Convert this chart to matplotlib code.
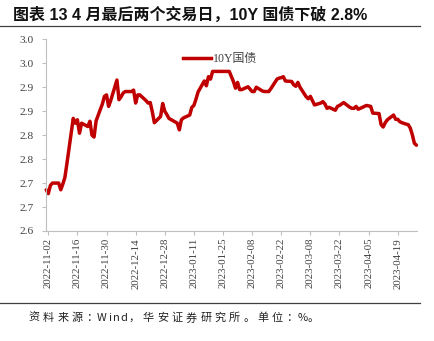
import matplotlib
matplotlib.use("Agg")
import matplotlib.pyplot as plt
from matplotlib.lines import Line2D
import pandas as pd

# 10Y China government bond yield (%), daily close
dates = [
    "2022-11-01", "2022-11-02", "2022-11-03", "2022-11-04", "2022-11-07", "2022-11-08",
    "2022-11-09", "2022-11-10", "2022-11-11", "2022-11-14", "2022-11-15", "2022-11-16",
    "2022-11-17", "2022-11-18", "2022-11-21", "2022-11-22", "2022-11-23", "2022-11-24",
    "2022-11-25", "2022-11-28", "2022-11-29", "2022-11-30",
    "2022-12-01", "2022-12-02", "2022-12-05", "2022-12-06", "2022-12-07", "2022-12-08",
    "2022-12-09", "2022-12-12", "2022-12-13", "2022-12-14", "2022-12-15", "2022-12-16",
    "2022-12-19", "2022-12-20", "2022-12-21", "2022-12-22", "2022-12-23", "2022-12-26",
    "2022-12-27", "2022-12-28", "2022-12-29", "2022-12-30",
    "2023-01-03", "2023-01-04", "2023-01-05", "2023-01-06", "2023-01-09", "2023-01-10",
    "2023-01-11", "2023-01-12", "2023-01-13", "2023-01-16", "2023-01-17", "2023-01-18",
    "2023-01-19", "2023-01-20", "2023-01-28", "2023-01-30", "2023-01-31",
    "2023-02-01", "2023-02-02", "2023-02-03", "2023-02-06", "2023-02-07", "2023-02-08",
    "2023-02-09", "2023-02-10", "2023-02-13", "2023-02-14", "2023-02-15", "2023-02-16",
    "2023-02-17", "2023-02-20", "2023-02-21", "2023-02-22", "2023-02-23", "2023-02-24",
    "2023-02-27", "2023-02-28",
    "2023-03-01", "2023-03-02", "2023-03-03", "2023-03-06", "2023-03-07", "2023-03-08",
    "2023-03-09", "2023-03-10", "2023-03-13", "2023-03-14", "2023-03-15", "2023-03-16",
    "2023-03-17", "2023-03-20", "2023-03-21", "2023-03-22", "2023-03-23", "2023-03-24",
    "2023-03-27", "2023-03-28", "2023-03-29", "2023-03-30", "2023-03-31",
    "2023-04-03", "2023-04-04", "2023-04-06", "2023-04-07", "2023-04-10", "2023-04-11",
    "2023-04-12", "2023-04-13", "2023-04-14", "2023-04-17", "2023-04-18", "2023-04-19",
    "2023-04-20", "2023-04-21", "2023-04-23", "2023-04-24", "2023-04-25", "2023-04-26",
    "2023-04-27", "2023-04-28",
]
yields_10y = [
    2.686, 2.678, 2.695, 2.700, 2.700, 2.686,
    2.698, 2.712, 2.742, 2.835, 2.825, 2.832,
    2.804, 2.825, 2.818, 2.829, 2.800, 2.796,
    2.830, 2.865, 2.881, 2.884,
    2.860, 2.872, 2.915, 2.874, 2.880, 2.888,
    2.891, 2.891, 2.894, 2.867, 2.884, 2.884,
    2.872, 2.867, 2.868, 2.849, 2.826, 2.839,
    2.866, 2.850, 2.843, 2.835,
    2.825, 2.811, 2.832, 2.836, 2.842, 2.858,
    2.862, 2.875, 2.890, 2.913, 2.903, 2.922,
    2.917, 2.933, 2.933, 2.912, 2.898,
    2.910, 2.895, 2.895, 2.901, 2.896, 2.891,
    2.891, 2.900, 2.892, 2.891, 2.891, 2.891,
    2.897, 2.917, 2.919, 2.920, 2.922, 2.913,
    2.912, 2.905,
    2.902, 2.910, 2.900, 2.880, 2.876, 2.881,
    2.872, 2.863, 2.867, 2.870, 2.865, 2.856,
    2.858, 2.852, 2.860, 2.862, 2.865, 2.868,
    2.858, 2.856, 2.856, 2.860, 2.854,
    2.860, 2.862, 2.860, 2.846, 2.845, 2.822,
    2.817, 2.826, 2.832, 2.842, 2.833, 2.833,
    2.828, 2.826, 2.823, 2.822, 2.815, 2.801,
    2.783, 2.779,
]

y_ticks = [2.60, 2.65, 2.70, 2.75, 2.80, 2.85, 2.90, 2.95, 3.00]
y_tick_labels = ["2.6", "2.7", "2.7", "2.8", "2.8", "2.9", "2.9", "3.0", "3.0"]
x_tick_dates = ["2022-11-02", "2022-11-16", "2022-11-30", "2022-12-14", "2022-12-28",
                "2023-01-11", "2023-01-25", "2023-02-08", "2023-02-22", "2023-03-08",
                "2023-03-22", "2023-04-05", "2023-04-19"]

title = "图表 13 4 月最后两个交易日，10Y 国债下破 2.8%"
series_name = "10Y国债"
source_note = "资料来源：Wind，华安证券研究所。单位：%。"

line_color = "#C00000"
axis_color = "#BFBFBF"
label_color = "#404040"
serif = ["Liberation Serif", "Noto Sans CJK SC"]

x = pd.to_datetime(dates)
xt = pd.to_datetime(x_tick_dates)

W, H = 434, 341
fig = plt.figure(figsize=(W / 100, H / 100), dpi=100)
fig.patch.set_facecolor("white")

ax = fig.add_axes([46.2 / W, 1 - 231 / H, (417.5 - 46.2) / W, (231 - 39.3) / H])
ax.plot(x, yields_10y, color=line_color, lw=2.5, solid_joinstyle="round",
        solid_capstyle="round", clip_on=False)

ax.set_ylim(2.6, 3.0)
ax.set_xlim(x[0], x[-1] + pd.Timedelta(days=0.5))
ax.set_yticks(y_ticks)
ax.set_yticklabels(y_tick_labels, family=serif, fontsize=8.2, color=label_color)
ax.set_xticks(xt)
ax.set_xticklabels([d.strftime("%Y-%m-%d") for d in xt], rotation=90,
                   family=serif, fontsize=7.8, color=label_color)

for side in ("top", "right"):
    ax.spines[side].set_visible(False)
for side in ("left", "bottom"):
    ax.spines[side].set_color(axis_color)
    ax.spines[side].set_linewidth(0.8)
ax.tick_params(axis="both", direction="out", length=3, width=0.8, color=axis_color, pad=2)
ax.tick_params(axis="y", pad=6)

handle = Line2D([], [], color=line_color, lw=2.5)
leg = ax.legend([handle], [series_name], loc="upper left", bbox_to_anchor=(0.34, 0.985),
                frameon=False, handlelength=2.3, handletextpad=0.2,
                prop={"family": serif, "size": 8.6})
for t in leg.get_texts():
    t.set_color(label_color)

# Header and rules
fig.text(13 / W, 1 - 15 / H, title, family=["Liberation Sans", "Noto Sans CJK SC"],
         fontweight="bold", fontsize=11.5, va="center", ha="left", color="#111111")
fig.add_artist(Line2D([0, 420 / W], [1 - 25.5 / H] * 2, color="#404040", lw=0.9))
fig.add_artist(Line2D([0, 420 / W], [1 - 302.5 / H] * 2, color="#404040", lw=0.9))

# Footnote set in fixed-pitch cells: full-width glyphs take one cell, ASCII half a cell
cell = 14.3
pos = 27.0
for ch in source_note:
    half = ord(ch) < 128
    fig.text((pos + (cell / 4 if half else cell / 2)) / W, 1 - 318 / H, ch,
             family=["Noto Sans CJK SC"], fontsize=8.0, va="center", ha="center",
             color="#222222")
    pos += cell / 2 if half else cell

fig.savefig("out.png", dpi=100, facecolor="white")
